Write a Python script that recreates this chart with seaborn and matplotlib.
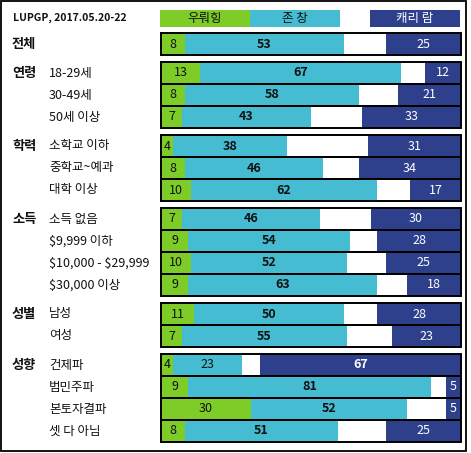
import matplotlib.pyplot as plt
import seaborn as sns
import pandas as pd
from matplotlib.patches import Rectangle

sns.set_style("white")
plt.rcParams["font.family"] = ["Noto Sans CJK KR", "DejaVu Sans"]

# poll data (%)
groups = ["전체", "연령", "연령", "연령", "학력", "학력", "학력",
          "소득", "소득", "소득", "소득", "성별", "성별",
          "성향", "성향", "성향", "성향"]
subgroups = ["", "18-29세", "30-49세", "50세 이상", "소학교 이하", "중학교~예과", "대학 이상",
             "소득 없음", "$9,999 이하", "$10,000 - $29,999", "$30,000 이상", "남성", "여성",
             "건제파", "범민주파", "본토자결파", "셋 다 아님"]
woo = [8, 13, 8, 7, 4, 8, 10, 7, 9, 10, 9, 11, 7, 4, 9, 30, 8]
tsang = [53, 67, 58, 43, 38, 46, 62, 46, 54, 52, 63, 50, 55, 23, 81, 52, 51]
lam = [25, 12, 21, 33, 31, 34, 17, 30, 28, 25, 18, 28, 23, 67, 5, 5, 25]
candidates = ["우뤄힝", "존 창", "캐리 람"]
title = "LUPGP, 2017.05.20-22"

GREEN = "#7ecc27"
CYAN = "#46bcd2"
NAVY = "#2e408c"

# layout in pixels
ROW_H, GAP, TOP = 22, 7, 33
ypos = []
y = TOP
for i, g in enumerate(groups):
    if i > 0 and g != groups[i - 1]:
        y += GAP
    ypos.append(y + ROW_H / 2)
    y += ROW_H

df = pd.DataFrame({"group": groups, "sub": subgroups, "woo": woo,
                   "tsang": tsang, "lam": lam, "y": ypos})
df["full"] = 100
df["white_end"] = 100 - df["lam"]
df["cyan_end"] = df["woo"] + df["tsang"]


def px2x(px):
    return (px - 161) / 3


fig = plt.figure(figsize=(4.71, 4.53), dpi=100)
ax = fig.add_axes([0, 0, 1, 1])

layers = [("full", NAVY), ("white_end", "white"), ("cyan_end", CYAN), ("woo", GREEN)]
for col, c in layers:
    sns.barplot(data=df, x=col, y="y", orient="y", native_scale=True, color=c,
                width=1, linewidth=0, saturation=1, errorbar=None, ax=ax)
sns.barplot(data=df, x="full", y="y", orient="y", native_scale=True, color="black",
            fill=False, width=1, linewidth=1.4, errorbar=None, ax=ax)

fs = 9
for _, r in df.iterrows():
    mx = max(r.woo, r.tsang, r.lam)
    ax.text(r.woo / 2, r.y, str(r.woo), ha="center", va="center", fontsize=fs,
            color="#111111", fontweight="bold" if r.woo == mx else "normal")
    ax.text(r.woo + r.tsang / 2, r.y, str(r.tsang), ha="center", va="center", fontsize=fs,
            color="#111111", fontweight="bold" if r.tsang == mx else "normal")
    ax.text(100 - r.lam / 2, r.y, str(r.lam), ha="center", va="center", fontsize=fs,
            color="white", fontweight="bold" if r.lam == mx else "normal")
    ax.text(px2x(49), r.y, r["sub"], ha="left", va="center", fontsize=9,
            color="#111111", parse_math=False)

for i, g in enumerate(groups):
    if i == 0 or g != groups[i - 1]:
        ax.text(px2x(12), ypos[i], g, ha="left", va="center", fontsize=9.5,
                fontweight="bold", color="#111111")

# legend boxes
leg = [(0, 30, GREEN, "#111111"), (30, 60, CYAN, "#111111"), (70, 100, NAVY, "white")]
for (x0, x1, c, tc), name in zip(leg, candidates):
    ax.add_patch(Rectangle((x0 - 0.33, 10), x1 - x0, 17, facecolor=c, edgecolor="none"))
    ax.text((x0 + x1) / 2 - 0.33, 18.5, name, ha="center", va="center",
            fontsize=9, color=tc)

ax.text(px2x(13), 18, title, ha="left", va="center", fontsize=7.5,
        fontweight="bold", color="#111111")

# outer frame
ax.add_patch(Rectangle((px2x(0.7), 0.7), (465.5 - 0.7) / 3, 450.5,
                       fill=False, edgecolor="black", linewidth=1.3, clip_on=False))

ax.set_xlim(px2x(0), px2x(471))
ax.set_ylim(453, 0)
ax.axis("off")
fig.savefig("out.png", dpi=100)
